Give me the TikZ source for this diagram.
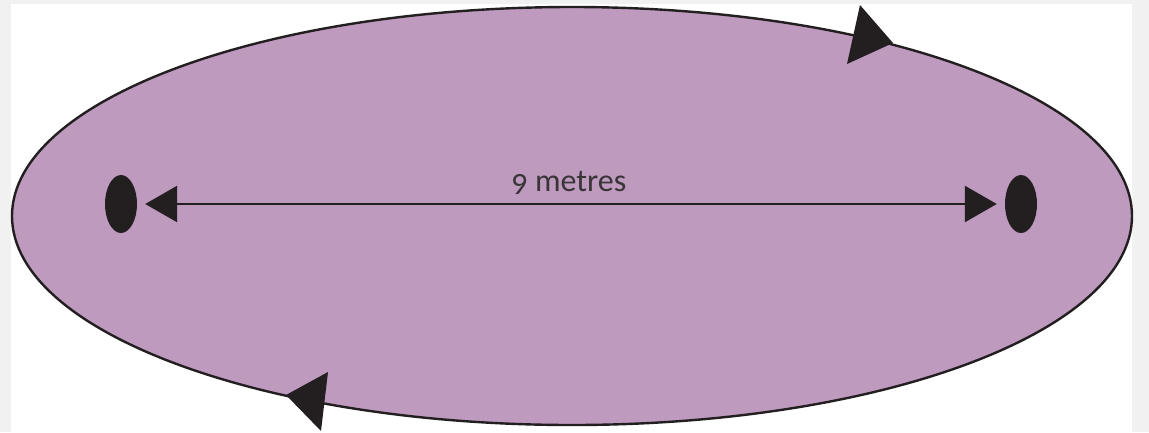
\documentclass[tikz,border=0pt]{standalone}
\usepackage{fontspec}
\setmainfont{Carlito}[Numbers=OldStyle]
\usetikzlibrary{shapes.geometric,arrows.meta}
\definecolor{orbitfill}{HTML}{BE9ABE}
\definecolor{ink}{HTML}{231F20}
\definecolor{bggray}{HTML}{F1F1F1}
\tikzset{
  focus/.style={ellipse, fill=ink, inner sep=0pt, minimum width=32pt, minimum height=58pt},
  dimline/.style={draw=ink, line width=2.6pt, {Triangle[length=32pt,width=36pt]}-{Triangle[length=32pt,width=36pt]}, shorten <=8pt, shorten >=8pt},
  orbittip/.style={fill=ink}
}
\begin{document}
\begin{tikzpicture}[x=1pt,y=-1pt]
\useasboundingbox (0,0) rectangle (1149,432);
\fill[bggray] (0,0) rectangle (1149,432);
\fill[white] (11,4) rectangle (1132,432);
\draw[ink, fill=orbitfill, line width=2.4pt] (572,216) ellipse [x radius=560, y radius=209];
\node[focus] (l) at (121,204) {};
\node[focus] (r) at (1021,204) {};
\draw[dimline] (l.east) -- (r.west);
\node[text=ink!90!white, font=\fontsize{32}{36}\selectfont, anchor=base, inner sep=0pt] (lab) at (569,191) {9 metres};
\fill[orbittip] (860,5) -- (893,43) -- (847,64) -- cycle;
\fill[orbittip] (328,372) -- (286,395) -- (321,431) -- cycle;
\end{tikzpicture}
\end{document}
